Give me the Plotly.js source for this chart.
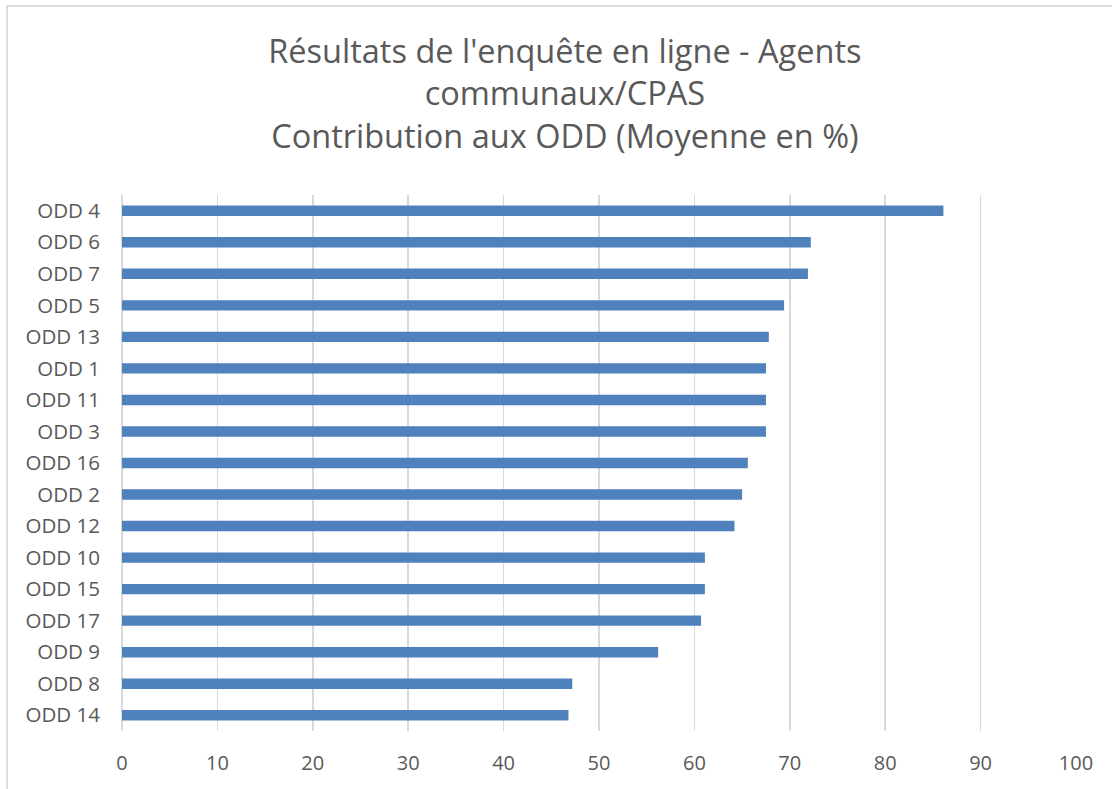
<!DOCTYPE html>
<html>
<head>
<meta charset="utf-8">
<script src="https://cdn.plot.ly/plotly-3.0.1.min.js"></script>
<style>
html,body{margin:0;padding:0;background:#fff;overflow:hidden;}
#chart{position:absolute;left:0;top:0;width:1112px;height:789px;}
#frame{position:absolute;left:6px;top:5px;width:1120px;height:800px;border:2px solid #dcdcdc;pointer-events:none;box-sizing:border-box;}
</style>
</head>
<body>
<div id="chart"></div>
<div id="frame"></div>
<script>
const categories = ["ODD 4","ODD 6","ODD 7","ODD 5","ODD 13","ODD 1","ODD 11","ODD 3","ODD 16","ODD 2","ODD 12","ODD 10","ODD 15","ODD 17","ODD 9","ODD 8","ODD 14"];
const values = [86.1, 72.2, 71.9, 69.4, 67.8, 67.5, 67.5, 67.5, 65.6, 65.0, 64.2, 61.1, 61.1, 60.7, 56.2, 47.2, 46.8];
const xTicks = [0,10,20,30,40,50,60,70,80,90,100];
const titleText = "Résultats de l'enquête en ligne - Agents<br>communaux/CPAS<br>Contribution aux ODD (Moyenne en %)";

const font = "Open Sans, Noto Sans, sans-serif";
Plotly.newPlot("chart", [{
  type: "bar",
  orientation: "h",
  y: categories,
  x: values,
  width: 0.33,
  marker: {color: "#4f81bd"},
  hoverinfo: "x+y"
}], {
  width: 1112, height: 789,
  margin: {l: 122, r: 36, t: 195, b: 58},
  paper_bgcolor: "#fff", plot_bgcolor: "#fff",
  title: {text: titleText, font: {family: font, size: 32.5, color: "#595959"}, x: 0.508, xanchor: "center", y: 0.92, yanchor: "top"},
  xaxis: {
    range: [0, 100], tickvals: xTicks, ticktext: xTicks.map(String),
    showgrid: true, gridcolor: "#d9d9d9", gridwidth: 1.5,
    zeroline: true, zerolinecolor: "#d9d9d9", zerolinewidth: 1.5,
    showline: false, ticks: "", ticklabelstandoff: 18,
    tickfont: {family: font, size: 20, color: "#595959"}, fixedrange: true
  },
  yaxis: {
    autorange: "reversed", type: "category",
    showgrid: false, zeroline: false, showline: false, ticks: "", ticklabelstandoff: 21,
    tickfont: {family: font, size: 20.5, color: "#595959"}, fixedrange: true
  },
  bargap: 0.67,
  showlegend: false
}, {displayModeBar: false, staticPlot: true});
</script>
</body>
</html>
